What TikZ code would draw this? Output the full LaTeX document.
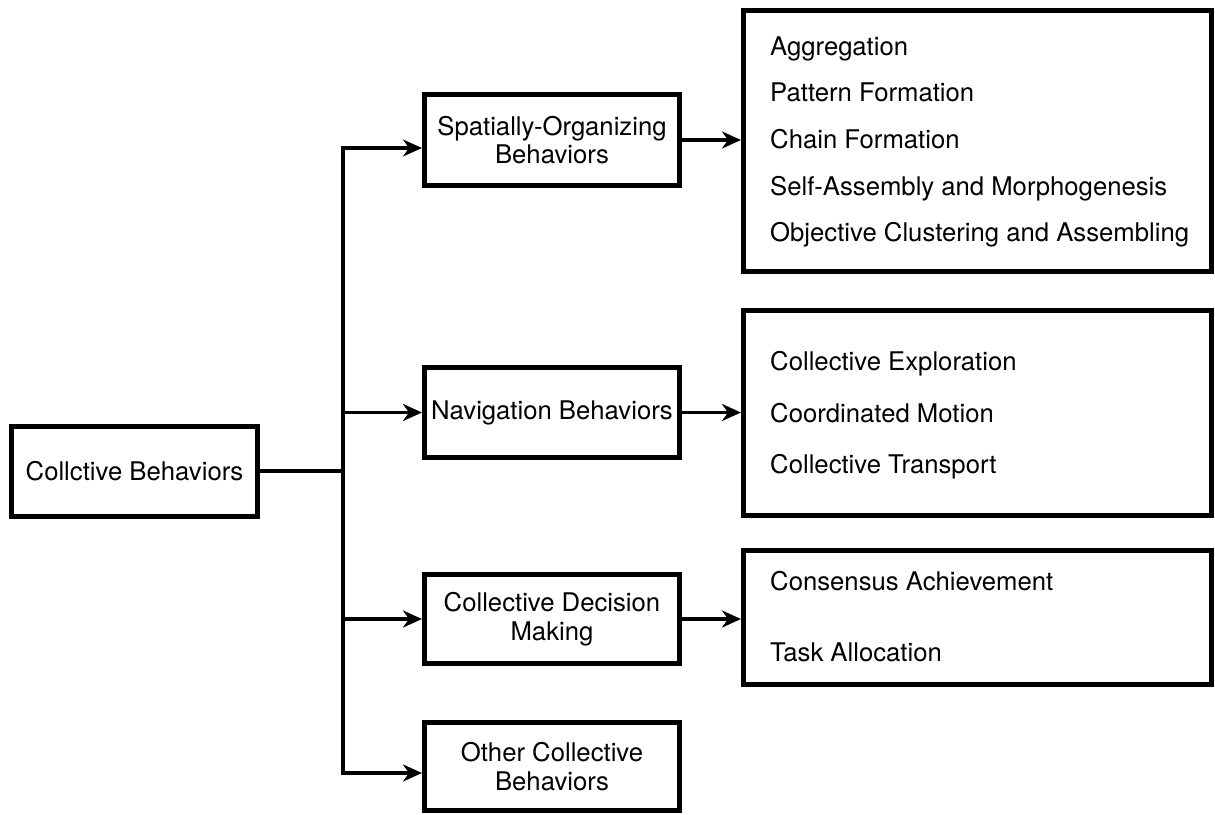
\documentclass[tikz,border=0pt]{standalone}
\usepackage{fontspec}
\setmainfont{TeX Gyre Heros}
\usetikzlibrary{arrows.meta}
\begin{document}
\begin{tikzpicture}[x=1pt,y=-1pt,
  box/.style={draw, line width=5pt, inner sep=0pt, align=center,
    font=\fontsize{25.7}{28.5}\selectfont},
  item/.style={anchor=base west, inner sep=0pt,
    font=\fontsize{25.7}{28.5}\selectfont},
  link/.style={line width=3.6pt},
  arr/.style={link, -{Stealth[length=19pt,width=17pt,inset=6pt]}}]
\useasboundingbox (0,0) rectangle (1215,814);

% root
\node[box, minimum width=246pt, minimum height=90pt] (root) at (134.5,471) {Collctive Behaviors};

% second level
\node[box, minimum width=255pt, minimum height=91pt] (spat) at (552,140) {Spatially-Organizing\\Behaviors};
\node[box, minimum width=255pt, minimum height=90pt] (nav) at (552,412.5) {Navigation Behaviors};
\node[box, minimum width=255pt, minimum height=89pt] (dec) at (552,619) {Collective Decision\\Making};
\node[box, minimum width=255pt, minimum height=88pt] (oth) at (552,766.5) {Other Collective\\Behaviors};

% lists
\node[box, minimum width=468pt, minimum height=261pt] (list1) at (977.5,141) {};
\node[box, minimum width=468pt, minimum height=205pt] (list2) at (977.5,413) {};
\node[box, minimum width=468pt, minimum height=134pt] (list3) at (977.5,617.5) {};

\node[item] (a1) at (770,55) {Aggregation};
\node[item] (a2) at (770,101.7) {Pattern Formation};
\node[item] (a3) at (770,148.3) {Chain Formation};
\node[item] (a4) at (770,195) {Self-Assembly and Morphogenesis};
\node[item] (a5) at (770,241.7) {Objective Clustering and Assembling};

\node[item] (b1) at (770,370.7) {Collective Exploration};
\node[item] (b2) at (770,422.3) {Coordinated Motion};
\node[item] (b3) at (770,473.3) {Collective Transport};

\node[item] (c1) at (770,590) {Consensus Achievement};
\node[item] (c2) at (770,661.7) {Task Allocation};

% connectors
\coordinate (jn) at (343,471);
\draw[link] (root.east) -- (jn);
\draw[arr] (jn) |- ([yshift=-8pt]spat.west);
\draw[arr] (jn) |- (nav.west);
\draw[arr] (jn) |- (dec.west);
\draw[arr] (jn) |- ([yshift=-6.5pt]oth.west);

\draw[arr] (spat.east) -- (spat.east -| list1.west);
\draw[arr] (nav.east) -- (nav.east -| list2.west);
\draw[arr] (dec.east) -- (dec.east -| list3.west);
\end{tikzpicture}
\end{document}
